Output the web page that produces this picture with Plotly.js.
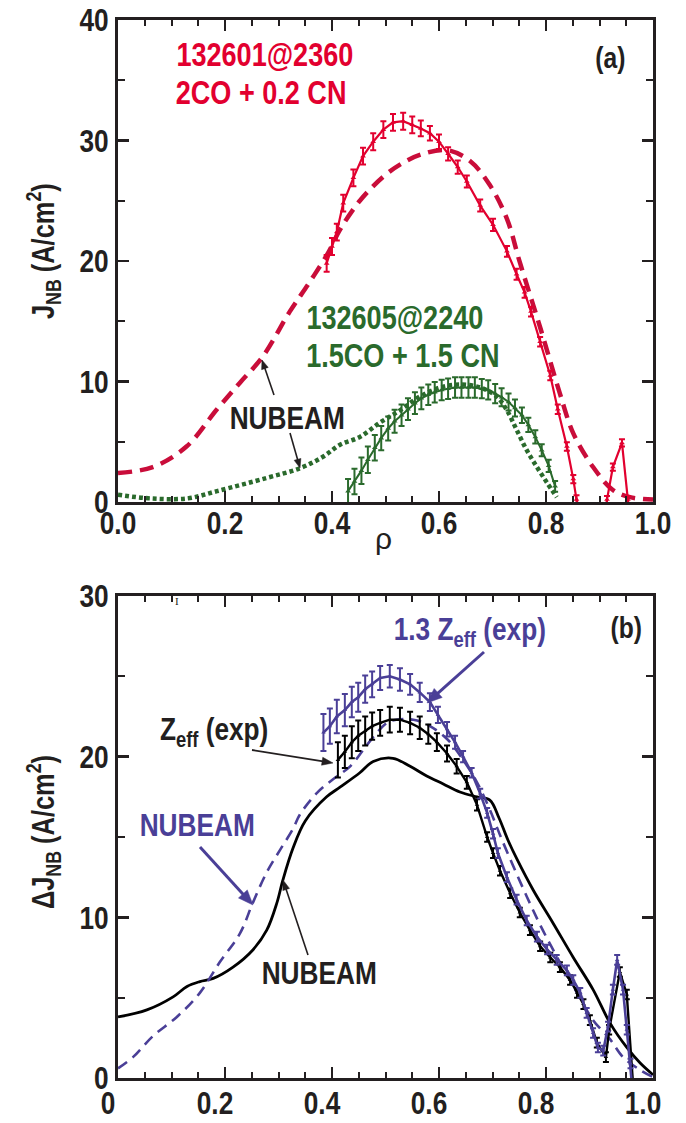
<!DOCTYPE html>
<html>
<head>
<meta charset="utf-8">
<script src="https://cdn.plot.ly/plotly-3.0.1.min.js"></script>
<style>html,body{margin:0;padding:0;background:#fff;}#chart{width:686px;height:1123px;}</style>
</head>
<body>
<div id="chart"></div>
<script>
// ---------- Panel (a) data ----------
// 132601@2360 measured J_NB (red, with error bars)
const rhoA_red = [0.390,0.400,0.409,0.421,0.440,0.458,0.477,0.496,0.514,0.533,0.550,0.566,0.583,0.600,0.617,0.635,0.652,0.677,0.701,0.727,0.745,0.760,0.772,0.789,0.808,0.822,0.839,0.851,0.857,0.875,0.903,0.914,0.925,0.942,0.953,0.965];
const jA_red   = [19.8,21.2,22.4,24.8,26.9,28.7,29.9,30.9,31.5,31.6,31.3,31.0,30.6,29.9,28.9,27.8,26.6,24.6,23.0,20.8,18.9,17.4,15.8,13.3,10.5,7.7,4.6,1.9,0.2,-2.5,-2.9,0.2,2.9,4.9,0.2,-3.0];
const errA_red = [0.7,0.7,0.7,0.7,0.7,0.7,0.7,0.7,0.7,0.7,0.7,0.65,0.6,0.6,0.55,0.55,0.5,0.5,0.5,0.45,0.45,0.45,0.4,0.4,0.4,0.4,0.35,0.35,0.35,0.3,0.3,0.3,0.3,0.3,0.3,0.3];
// NUBEAM for 132601 (red dashed)
const rhoA_redNB = [0.000,0.065,0.128,0.185,0.228,0.271,0.321,0.359,0.393,0.415,0.452,0.496,0.527,0.564,0.615,0.658,0.695,0.727,0.751,0.789,0.826,0.851,0.888,0.925,0.957,1.000];
const jA_redNB   = [2.4,2.9,4.6,7.7,9.9,12.1,15.8,18.3,20.7,22.6,25.0,27.0,28.0,28.8,29.2,28.3,26.3,23.5,19.9,14.5,9.0,5.7,2.9,1.0,0.4,0.2];
// 132605@2240 measured J_NB (green, with error bars)
const rhoA_green = [0.430,0.442,0.455,0.467,0.480,0.492,0.505,0.517,0.530,0.542,0.555,0.567,0.580,0.592,0.605,0.617,0.630,0.642,0.655,0.667,0.680,0.692,0.705,0.717,0.730,0.742,0.755,0.767,0.780,0.792,0.805,0.817];
const jA_green   = [0.9,1.7,2.6,3.5,4.5,5.3,6.1,6.7,7.2,7.7,8.2,8.6,8.9,9.1,9.3,9.4,9.5,9.5,9.5,9.5,9.4,9.3,9.0,8.7,8.3,7.8,7.2,6.4,5.4,4.3,3.0,1.3];
const errA_green = [1.0,1.05,1.1,1.1,1.05,1.0,1.0,0.95,0.9,0.9,0.9,0.9,0.85,0.85,0.85,0.85,0.85,0.85,0.85,0.85,0.8,0.8,0.8,0.75,0.7,0.7,0.65,0.6,0.55,0.5,0.5,0.45];
// NUBEAM for 132605 (green dotted)
const rhoA_greenNB = [0.000,0.060,0.130,0.185,0.278,0.340,0.383,0.415,0.452,0.490,0.527,0.564,0.602,0.639,0.677,0.708,0.727,0.745,0.764,0.783,0.802,0.820];
const jA_greenNB   = [0.6,0.3,0.3,0.9,2.0,2.8,3.75,4.75,5.4,6.6,7.6,8.75,9.5,9.75,9.5,8.75,7.6,6.0,4.3,2.9,1.6,0.4];

// ---------- Panel (b) data ----------
// NUBEAM (black solid)
const rhoB_nb = [0.000,0.054,0.103,0.129,0.153,0.178,0.215,0.252,0.278,0.297,0.308,0.327,0.350,0.390,0.415,0.452,0.477,0.514,0.546,0.577,0.608,0.639,0.671,0.695,0.712,0.729,0.746,0.776,0.813,0.851,0.888,0.920,0.951,0.976,1.000];
const jB_nb    = [3.8,4.24,5.05,5.7,6.0,6.2,6.9,7.97,9.2,10.9,12.3,14.3,16.0,17.5,18.1,19.0,19.7,19.9,19.4,18.8,18.3,17.8,17.5,17.3,16.2,14.8,13.6,11.7,9.65,7.5,5.5,3.4,1.9,0.93,0.2];
// NUBEAM (purple dashed)
const rhoB_nbP = [0.000,0.028,0.065,0.110,0.153,0.190,0.228,0.252,0.278,0.303,0.327,0.340,0.372,0.402,0.434,0.458,0.484,0.508,0.552,0.583,0.615,0.645,0.671,0.695,0.718,0.764,0.794,0.826,0.858,0.888,0.920,0.944,0.976,1.000];
const jB_nbP   = [0.6,1.3,2.6,3.8,5.3,7.2,9.0,10.9,12.8,14.2,15.5,16.4,17.75,18.6,19.4,20.4,21.5,22.2,22.3,21.9,21.1,19.8,18.4,16.7,14.8,11.3,9.2,7.2,5.3,3.6,2.4,1.3,0.5,0.06];
// Zeff (exp) (black, with error bars)
const rhoB_z = [0.411,0.424,0.437,0.449,0.462,0.475,0.490,0.508,0.527,0.546,0.564,0.580,0.596,0.615,0.633,0.652,0.671,0.690,0.701,0.714,0.733,0.751,0.770,0.789,0.808,0.826,0.845,0.858,0.870,0.882,0.895,0.912,0.918,0.938,0.951,0.963,0.975];
const jB_z   = [19.8,20.3,20.9,21.3,21.6,21.9,22.1,22.3,22.3,22.1,21.8,21.4,20.9,20.2,19.4,18.4,17.0,15.0,14.0,12.9,11.5,10.3,9.2,8.2,7.5,6.9,6.1,5.3,4.6,3.6,2.2,1.3,3.0,6.6,5.2,-0.5,-3.0];
const errB_z = [1.1,1.0,1.0,0.95,0.9,0.85,0.8,0.8,0.75,0.7,0.7,0.6,0.55,0.5,0.45,0.4,0.35,0.3,0.3,0.3,0.3,0.3,0.3,0.3,0.3,0.3,0.3,0.3,0.3,0.3,0.3,0.3,0.3,0.3,0.3,0.3,0.3];
// 1.3 Zeff (exp) (purple, with error bars)
const rhoB_z13 = [0.384,0.396,0.409,0.424,0.437,0.449,0.462,0.475,0.490,0.508,0.527,0.546,0.564,0.583,0.598,0.615,0.630,0.645,0.661,0.677,0.690,0.701,0.710,0.727,0.745,0.764,0.783,0.802,0.820,0.839,0.851,0.864,0.876,0.888,0.897,0.907,0.916,0.925,0.933,0.944,0.951,0.958,0.968];
const jB_z13   = [21.5,21.9,22.5,22.9,23.4,23.7,24.2,24.5,24.9,25.0,24.8,24.5,24.0,23.4,22.6,21.7,20.9,20.0,19.0,17.7,16.5,15.2,14.0,12.5,11.1,9.8,8.8,8.0,7.35,6.7,6.1,5.3,4.05,2.8,1.9,1.7,3.2,5.5,7.35,5.5,3.0,0.9,-3.0];
const errB_z13 = [1.15,1.1,1.05,1.0,0.95,0.9,0.85,0.8,0.75,0.7,0.7,0.65,0.6,0.55,0.5,0.45,0.4,0.35,0.3,0.3,0.3,0.3,0.3,0.3,0.3,0.3,0.3,0.3,0.3,0.3,0.3,0.3,0.3,0.3,0.3,0.3,0.3,0.3,0.3,0.3,0.3,0.3,0.3];

// ---------- Tick labels ----------
const xTickValsA = [0,0.2,0.4,0.6,0.8,1.0];
const xTickTextA = ['0.0','0.2','0.4','0.6','0.8','1.0'];
const xTickTextB = ['0','0.2','0.4','0.6','0.8','1.0'];
const yTickValsA = [0,10,20,30,40];
const yTickValsB = [0,10,20,30];

// ---------- Styling ----------
const W = 686, H = 1123;
const FONT = "'Liberation Sans Narrow', 'Arial Narrow', 'Liberation Sans', Arial, sans-serif";
const INK = '#231f20';
const RED = '#e2002f', RED_NB = '#c90d3a';
const GREEN = '#2a6a2c';
const PURPLE = '#4a3f97';
const CONDENSE = 0.82; // the reference uses a narrow bold face
const px = (x) => x / W;
const py = (y) => 1 - y / H;

function axisBase(extra) {
  return Object.assign({
    showgrid: false, zeroline: false,
    showline: true, linecolor: INK, linewidth: 3, mirror: 'ticks',
    ticks: 'inside', ticklen: 11, tickwidth: 2.5, tickcolor: INK,
    tickfont: {family: FONT, size: 32, color: INK, weight: 'bold'},
    fixedrange: true
  }, extra);
}

const errStyle = (arr, color) => ({type: 'data', array: arr, visible: true, color: color, thickness: 2, width: 3});

const traces = [
  // Panel (a)
  {x: rhoA_redNB, y: jA_redNB, xaxis: 'x', yaxis: 'y', mode: 'lines', line: {color: RED_NB, width: 4.5, dash: '14px,8px', shape: 'spline'}},
  {x: rhoA_greenNB, y: jA_greenNB, xaxis: 'x', yaxis: 'y', mode: 'lines', line: {color: GREEN, width: 4.5, dash: '4px,3px', shape: 'spline'}},
  {x: rhoA_green, y: jA_green, xaxis: 'x', yaxis: 'y', mode: 'lines+markers', line: {color: GREEN, width: 2}, marker: {symbol: 'triangle-up', size: 5, color: GREEN}, error_y: errStyle(errA_green, GREEN)},
  {x: rhoA_red, y: jA_red, xaxis: 'x', yaxis: 'y', mode: 'lines+markers', line: {color: RED, width: 2.2}, marker: {symbol: 'triangle-up', size: 5, color: RED}, error_y: errStyle(errA_red, RED)},
  // Panel (b)
  {x: rhoB_nb, y: jB_nb, xaxis: 'x2', yaxis: 'y2', mode: 'lines', line: {color: '#000', width: 2.8, shape: 'spline'}},
  {x: rhoB_nbP, y: jB_nbP, xaxis: 'x2', yaxis: 'y2', mode: 'lines', line: {color: PURPLE, width: 2.6, dash: '11px,7px', shape: 'spline'}},
  {x: rhoB_z, y: jB_z, xaxis: 'x2', yaxis: 'y2', mode: 'lines+markers', line: {color: '#000', width: 2.4}, marker: {symbol: 'triangle-up', size: 4, color: '#000'}, error_y: errStyle(errB_z, '#000')},
  {x: rhoB_z13, y: jB_z13, xaxis: 'x2', yaxis: 'y2', mode: 'lines+markers', line: {color: PURPLE, width: 2.6}, marker: {symbol: 'triangle-up', size: 4, color: PURPLE}, error_y: errStyle(errB_z13, PURPLE)}
];

function txt(text, x, y, color, size, extra) {
  return Object.assign({
    text: text, xref: 'paper', yref: 'paper', x: px(x), y: py(y),
    xanchor: 'center', yanchor: 'middle', showarrow: false,
    font: {family: FONT, size: size, color: color, weight: 'bold'}
  }, extra || {});
}

// Arrows drawn as layout shapes (line + filled head), positions in page pixels
const shapes = [];
function arrow(hx, hy, tx, ty, color, width, headLen, headHalf) {
  const dx = hx - tx, dy = hy - ty, d = Math.hypot(dx, dy);
  const ux = dx / d, uy = dy / d, nx = -uy, ny = ux;
  const bx = hx - ux * headLen, by = hy - uy * headLen;
  shapes.push({type: 'line', xref: 'paper', yref: 'paper',
    x0: px(tx), y0: py(ty), x1: px(bx + ux), y1: py(by + uy),
    line: {color: color, width: width}});
  const p = (x, y) => px(x).toFixed(5) + ',' + py(y).toFixed(5);
  shapes.push({type: 'path', xref: 'paper', yref: 'paper',
    path: 'M' + p(hx, hy) + ' L' + p(bx + nx * headHalf, by + ny * headHalf) + ' L' + p(bx - nx * headHalf, by - ny * headHalf) + ' Z',
    fillcolor: color, line: {color: color, width: 0.5}});
}
arrow(262, 360, 274, 395, INK, 1.6, 9, 3.5);
arrow(300, 468, 290, 433, INK, 1.6, 9, 3.5);
arrow(427, 703, 484, 652, PURPLE, 3, 15, 6);
arrow(333, 763, 252, 750, INK, 1.8, 11, 4);
arrow(253, 905, 200, 847, PURPLE, 3, 15, 6);
arrow(283, 880, 308, 955, INK, 1.6, 10, 3.5);

const annotations = [
  // Panel (a)
  txt('132601@2360', 265, 55, RED, 33),
  txt('2CO + 0.2 CN', 261, 92, RED, 33),
  txt('(a)', 610, 57, INK, 30),
  txt('132605@2240', 395, 318, GREEN, 33),
  txt('1.5CO + 1.5 CN', 403, 355, GREEN, 33),
  txt('NUBEAM', 287, 418, INK, 32),
  txt('ρ', 383, 538, INK, 30, {font: {family: "'Liberation Sans', Arial, sans-serif", size: 30, color: INK}}),
  txt('J<sub>NB</sub> (A/cm<sup>2</sup>)', 43, 251, INK, 31, {textangle: -90}),
  // Panel (b)
  txt('(b)', 626, 627, INK, 30),
  txt('1.3 Z<sub>eff</sub> (exp)', 470, 631, PURPLE, 32),
  txt('Z<sub>eff</sub> (exp)', 214, 731, INK, 32),
  txt('NUBEAM', 197, 825, PURPLE, 32),
  txt('NUBEAM', 319, 973, INK, 32),
  txt('ΔJ<sub>NB</sub> (A/cm<sup>2</sup>)', 43, 832, INK, 31, {textangle: -90}),
  txt('I', 177, 601, INK, 11, {font: {family: "'Liberation Serif', serif", size: 11, color: INK}})
];

const layout = {
  width: W, height: H,
  margin: {l: 0, r: 0, t: 0, b: 0, pad: 0},
  paper_bgcolor: '#fff', plot_bgcolor: '#fff',
  showlegend: false,
  xaxis: axisBase({domain: [px(118), px(653)], range: [0, 1.0], anchor: 'y',
    tickvals: xTickValsA, ticktext: xTickTextA, ticklabelstandoff: -9,
    minor: {dtick: 0.05, tick0: 0, ticks: 'inside', ticklen: 6, tickwidth: 2, tickcolor: INK}}),
  yaxis: axisBase({domain: [py(502), py(20)], range: [0, 40], anchor: 'x',
    tickvals: yTickValsA, ticklabelstandoff: 0,
    minor: {dtick: 5, tick0: 0, ticks: 'inside', ticklen: 7, tickwidth: 2, tickcolor: INK}}),
  xaxis2: axisBase({domain: [px(118), px(653)], range: [0, 1.0], anchor: 'y2',
    tickvals: xTickValsA, ticktext: xTickTextB, ticklabelstandoff: -5, ticklabelshift: -10,
    minor: {dtick: 0.05, tick0: 0, ticks: 'inside', ticklen: 6, tickwidth: 2, tickcolor: INK}}),
  yaxis2: axisBase({domain: [py(1078), py(596)], range: [0, 30], anchor: 'x2',
    tickvals: yTickValsB, ticklabelstandoff: 0,
    minor: {dtick: 5, tick0: 0, ticks: 'inside', ticklen: 7, tickwidth: 2, tickcolor: INK}}),
  shapes: shapes,
  annotations: annotations
};

// Narrow the bold labels horizontally (the reference uses a condensed face that is not installed)
function condense(gd) {
  const nodes = gd.querySelectorAll('g.xtick text, g.x2tick text, g.ytick text, g.y2tick text, text.annotation-text');
  nodes.forEach(function (t) {
    const s = t.textContent;
    if (!s || s === 'ρ' || s === 'I') return;
    const L = t.getComputedTextLength();
    if (L > 0) {
      t.setAttribute('textLength', (L * CONDENSE).toFixed(2));
      t.setAttribute('lengthAdjust', 'spacingAndGlyphs');
    }
  });
}

Plotly.newPlot('chart', traces, layout, {displayModeBar: false, staticPlot: true}).then(condense);
</script>
</body>
</html>
